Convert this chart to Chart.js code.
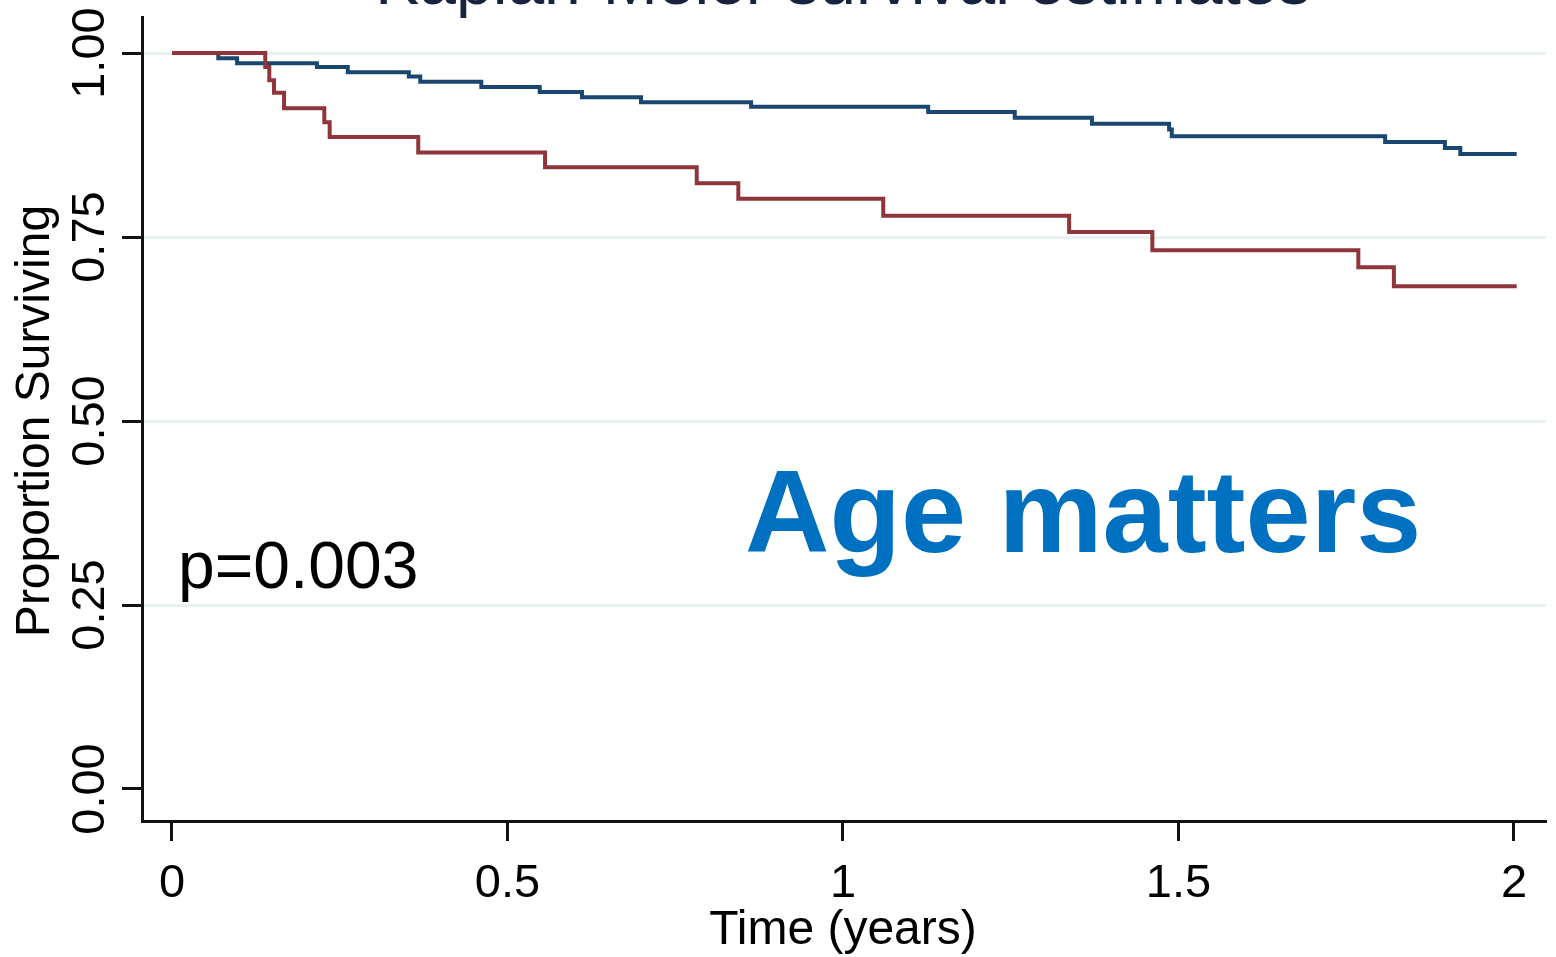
<!DOCTYPE html>
<html>
<head>
<meta charset="utf-8">
<script src="https://cdn.jsdelivr.net/npm/chart.js@4"></script>
<style>
  html, body { margin: 0; padding: 0; background: #fff; }
  canvas { display: block; }
</style>
</head>
<body>
<canvas id="kmChart" width="1556" height="957"></canvas>
<script>
// Kaplan-Meier step data (time in years, proportion surviving)
const youngTimes = [0, 0.069, 0.097, 0.216, 0.262, 0.353, 0.370, 0.461, 0.548, 0.611, 0.699, 0.863, 1.127, 1.256, 1.371, 1.486, 1.490, 1.808, 1.897, 1.920, 2.004];
const youngSurv  = [1.000, 0.993, 0.986, 0.981, 0.974, 0.968, 0.961, 0.954, 0.947, 0.940, 0.933, 0.927, 0.920, 0.912, 0.904, 0.896, 0.887, 0.879, 0.871, 0.863, 0.863];

const oldTimes = [0, 0.139, 0.145, 0.152, 0.167, 0.227, 0.235, 0.367, 0.556, 0.782, 0.844, 1.060, 1.337, 1.461, 1.768, 1.821, 2.004];
const oldSurv  = [1.000, 0.981, 0.963, 0.946, 0.925, 0.906, 0.886, 0.865, 0.845, 0.823, 0.802, 0.779, 0.757, 0.732, 0.709, 0.683, 0.683];

const xTickValues = [0, 0.5, 1, 1.5, 2];
const yTickValues = [0, 0.25, 0.5, 0.75, 1];

const FONT = '"Liberation Sans", Arial, sans-serif';

function toPoints(times, surv) {
  return times.map((t, i) => ({ x: t, y: surv[i] }));
}

// all the text is drawn here so it can sit where Stata puts it
const textPlugin = {
  id: 'stataText',
  afterDraw(chart) {
    const c = chart.ctx;
    const xs = chart.scales.x;
    const ys = chart.scales.y;
    c.save();

    // title, mostly cut off at the top
    c.fillStyle = '#16243f';
    c.font = '66px ' + FONT;
    c.textAlign = 'center';
    c.textBaseline = 'alphabetic';
    c.fillText('Kaplan-Meier survival estimates', xs.getPixelForValue(1), 4);

    // x tick labels
    c.fillStyle = '#000';
    c.font = '47px ' + FONT;
    xTickValues.forEach(v => {
      c.fillText(String(v), xs.getPixelForValue(v), 897);
    });

    // x title
    c.font = '48px ' + FONT;
    c.fillText('Time (years)', xs.getPixelForValue(1), 944);

    // y tick labels, rotated
    c.font = '47px ' + FONT;
    yTickValues.forEach(v => {
      c.save();
      c.translate(104, ys.getPixelForValue(v));
      c.rotate(-Math.PI / 2);
      c.fillText(v.toFixed(2), 0, 0);
      c.restore();
    });

    // y title
    c.save();
    c.font = '48px ' + FONT;
    c.translate(49, ys.getPixelForValue(0.5));
    c.rotate(-Math.PI / 2);
    c.fillText('Proportion Surviving', 0, 0);
    c.restore();

    // annotations
    c.textAlign = 'left';
    c.font = '66px ' + FONT;
    c.fillText('p=0.003', 178, 588);

    c.fillStyle = '#0070c0';
    c.font = 'bold 117px ' + FONT;
    c.fillText('Age matters', 745, 552);

    c.restore();
  }
};

const ctx = document.getElementById('kmChart').getContext('2d');
const kmChart = new Chart(ctx, {
  type: 'line',
  data: {
    datasets: [
      {
        label: 'Younger',
        data: toPoints(youngTimes, youngSurv),
        borderColor: '#1a476f',
        borderWidth: 4,
        pointRadius: 0,
        stepped: 'before',
        fill: false,
        order: 1
      },
      {
        label: 'Older',
        data: toPoints(oldTimes, oldSurv),
        borderColor: '#90353b',
        borderWidth: 4,
        pointRadius: 0,
        stepped: 'before',
        fill: false,
        order: 0 // drawn on top, like the reference
      }
    ]
  },
  options: {
    responsive: false,
    animation: false,
    devicePixelRatio: 1,
    layout: {
      padding: { left: 0, top: 17, right: 10, bottom: 0 }
    },
    plugins: {
      legend: { display: false },
      tooltip: { enabled: false }
    },
    scales: {
      x: {
        type: 'linear',
        min: -0.0447,
        max: 2.0477,
        afterBuildTicks: s => { s.ticks = xTickValues.map(v => ({ value: v })); },
        afterFit: s => { s.height = 136; },
        ticks: { display: false },
        grid: {
          drawOnChartArea: false,
          drawTicks: true,
          tickLength: 20,
          tickColor: '#111',
          tickWidth: 3
        },
        border: { color: '#111', width: 3 }
      },
      y: {
        type: 'linear',
        min: -0.0435,
        max: 1.049,
        afterBuildTicks: s => { s.ticks = yTickValues.map(v => ({ value: v })); },
        afterFit: s => { s.width = 142; },
        ticks: { display: false },
        grid: {
          color: c => (c.tick && c.tick.value === 0) ? 'rgba(0,0,0,0)' : '#e8f0f1',
          lineWidth: 3,
          drawTicks: true,
          tickLength: 20,
          tickColor: '#111',
          tickWidth: 3
        },
        border: { color: '#111', width: 3 }
      }
    }
  },
  plugins: [textPlugin]
});
</script>
</body>
</html>
